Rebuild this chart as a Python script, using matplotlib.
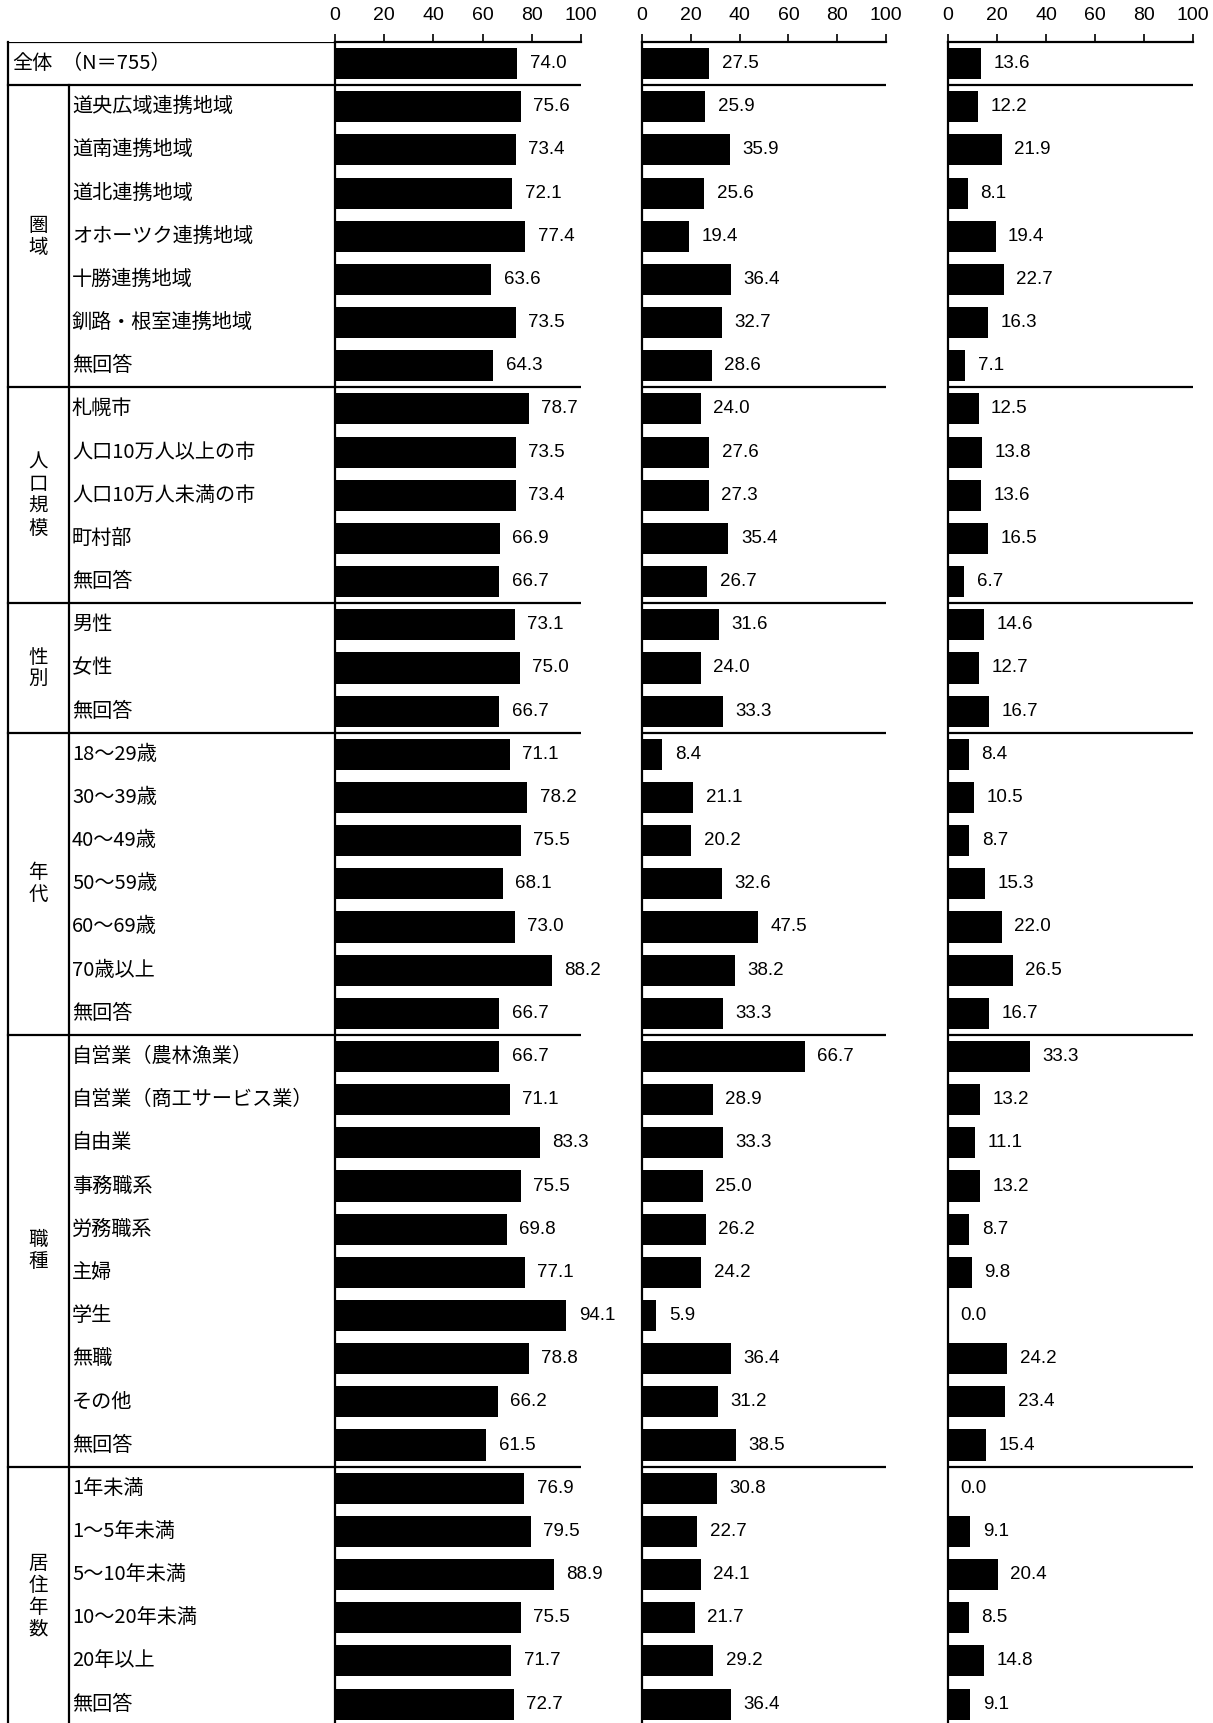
import matplotlib
matplotlib.use('Agg')
import matplotlib.pyplot as plt

# rows of the table (first row is the total)
total_label = '全体'
total_n = '（N＝755）'
groups = ['圏\n域', '人\n口\n規\n模', '性\n別', '年\n代', '職\n種', '居\n住\n年\n数']
group_sizes = [7, 5, 3, 7, 10, 6]
labels = [
    '道央広域連携地域', '道南連携地域', '道北連携地域', 'オホーツク連携地域',
    '十勝連携地域', '釧路・根室連携地域', '無回答',
    '札幌市', '人口10万人以上の市', '人口10万人未満の市', '町村部', '無回答',
    '男性', '女性', '無回答',
    '18～29歳', '30～39歳', '40～49歳', '50～59歳', '60～69歳', '70歳以上', '無回答',
    '自営業（農林漁業）', '自営業（商工サービス業）', '自由業', '事務職系', '労務職系',
    '主婦', '学生', '無職', 'その他', '無回答',
    '1年未満', '1～5年未満', '5～10年未満', '10～20年未満', '20年以上', '無回答',
]
v1 = [74.0,
      75.6, 73.4, 72.1, 77.4, 63.6, 73.5, 64.3,
      78.7, 73.5, 73.4, 66.9, 66.7,
      73.1, 75.0, 66.7,
      71.1, 78.2, 75.5, 68.1, 73.0, 88.2, 66.7,
      66.7, 71.1, 83.3, 75.5, 69.8, 77.1, 94.1, 78.8, 66.2, 61.5,
      76.9, 79.5, 88.9, 75.5, 71.7, 72.7]
v2 = [27.5,
      25.9, 35.9, 25.6, 19.4, 36.4, 32.7, 28.6,
      24.0, 27.6, 27.3, 35.4, 26.7,
      31.6, 24.0, 33.3,
      8.4, 21.1, 20.2, 32.6, 47.5, 38.2, 33.3,
      66.7, 28.9, 33.3, 25.0, 26.2, 24.2, 5.9, 36.4, 31.2, 38.5,
      30.8, 22.7, 24.1, 21.7, 29.2, 36.4]
v3 = [13.6,
      12.2, 21.9, 8.1, 19.4, 22.7, 16.3, 7.1,
      12.5, 13.8, 13.6, 16.5, 6.7,
      14.6, 12.7, 16.7,
      8.4, 10.5, 8.7, 15.3, 22.0, 26.5, 16.7,
      33.3, 13.2, 11.1, 13.2, 8.7, 9.8, 0.0, 24.2, 23.4, 15.4,
      0.0, 9.1, 20.4, 8.5, 14.8, 9.1]
ticks = [0, 20, 40, 60, 80, 100]

W, H = 1213, 1723
n = len(v1)
top_px = 42
row_px = 43.17
bottom_px = top_px + n * row_px

jp = ['Noto Sans CJK JP', 'DejaVu Sans']
num = ['Liberation Sans Narrow', 'Liberation Sans', 'DejaVu Sans']

# group boundaries (in row units)
bounds = [0.5]
acc = 1
for s in group_sizes:
    acc += s
    bounds.append(acc - 0.5)

fig = plt.figure(figsize=(W / 100, H / 100), dpi=100)
fig.patch.set_facecolor('white')

ybot = (H - bottom_px) / H
yh = (bottom_px - top_px) / H

# label table
tab = fig.add_axes([0, ybot, 1, yh])
tab.set_xlim(0, W)
tab.set_ylim(n - 0.5, -0.5)
tab.axis('off')
tab.plot([8, 8], [-0.5, n - 0.5], color='black', lw=1.6, clip_on=False)
tab.plot([69, 69], [0.5, n - 0.5], color='black', lw=1.6, clip_on=False)
tab.plot([8, 335], [-0.5, -0.5], color='black', lw=1.6)
for b in bounds[:-1]:
    tab.plot([8, 335], [b, b], color='black', lw=1.6)

tab.text(12, 0, total_label, fontsize=14.5, family=jp, va='center', ha='left')
tab.text(62, 0, total_n, fontsize=14.5, family=jp, va='center', ha='left')
for i, lab in enumerate(labels):
    tab.text(72, i + 1, lab, fontsize=14.5, family=jp, va='center', ha='left')
start = 1
for g, s in zip(groups, group_sizes):
    mid = start + (s - 1) / 2
    tab.text(38, mid, g, fontsize=14, family=jp, va='center', ha='center',
             linespacing=1.05)
    start += s

# three bar panels
panels = [(335, 246, v1), (642, 244, v2), (948, 245, v3)]
for left, width, vals in panels:
    ax = fig.add_axes([left / W, ybot, width / W, yh])
    ax.set_xlim(0, 100)
    ax.set_ylim(n - 0.5, -0.5)
    ax.barh(range(n), vals, height=0.72, color='black')
    for i, v in enumerate(vals):
        ax.annotate(f'{v:.1f}', (v, i), xytext=(9, 0), textcoords='offset points',
                    va='center', ha='left', fontsize=13.5, family=num)
    for b in bounds[:-1]:
        ax.axhline(b, color='black', lw=1.6)
    ax.xaxis.tick_top()
    ax.set_xticks(ticks)
    ax.set_xticklabels([str(t) for t in ticks], family=num, fontsize=14)
    ax.tick_params(axis='x', direction='out', length=6, width=1.2, pad=7)
    ax.set_yticks([])
    ax.spines['right'].set_visible(False)
    ax.spines['bottom'].set_visible(False)
    ax.spines['top'].set_linewidth(1.6)
    ax.spines['left'].set_linewidth(1.6)
    ax.set_facecolor('none')

fig.savefig('out.png', dpi=100, facecolor='white')
